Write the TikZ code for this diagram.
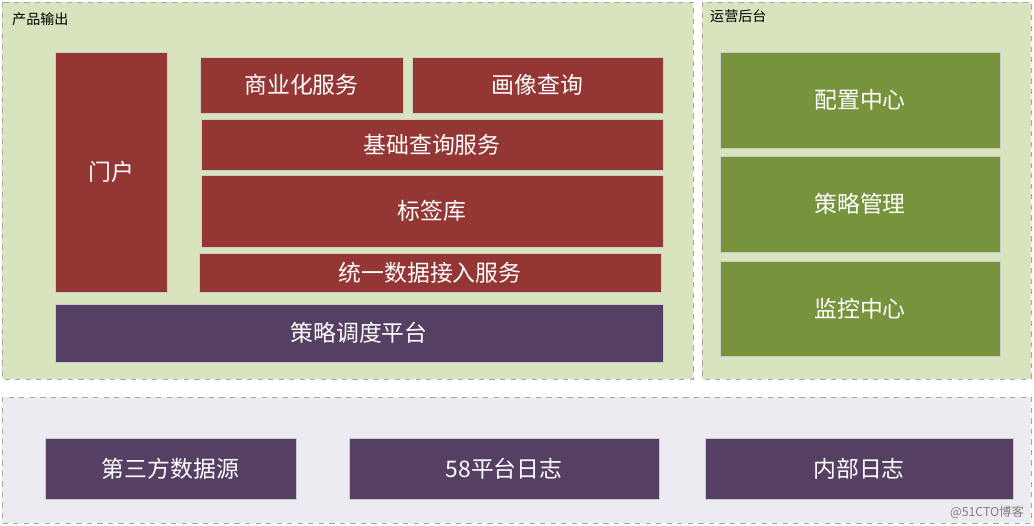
\documentclass[tikz,border=0pt]{standalone}
\usepackage{fontspec}
\setmainfont{Noto Sans CJK SC}
\usetikzlibrary{fit}
\definecolor{panelgreen}{HTML}{D7E4BD}
\definecolor{panelgrey}{HTML}{EDEBF2}
\definecolor{brick}{HTML}{943634}
\definecolor{plum}{HTML}{554063}
\definecolor{olive}{HTML}{77933C}
\tikzset{
  panel/.style={draw=gray!70, dashed, thin},
  box/.style={draw=gray!40, thin, inner sep=0pt},
  redbox/.style={box, fill=brick},
  purplebox/.style={box, fill=plum},
  greenbox/.style={box, fill=olive},
  boxtext/.style={text=white, font=\fontsize{13}{15}\selectfont},
  caption/.style={anchor=west, font=\fontsize{8}{10}\selectfont}
}
\begin{document}
\begin{tikzpicture}[x=0.02cm, y=-0.02cm]
   \useasboundingbox (0,0) rectangle (1034,526);
   % panels
   \draw[panel, fill=panelgreen] (2,2) rectangle (693,379);
   \draw[panel, fill=panelgreen] (702,2) rectangle (1031,379);
   \draw[panel, fill=panelgrey] (2,397) rectangle (1031,523);
   \node[caption] (outlbl) at (6,19) {产品输出};
   \node[caption] (oplbl) at (704,16) {运营后台};

   % product output
   \node[redbox, fit={(55,52)(167,292)}, label={[boxtext]center:门户}] (portal) {};
   \node[redbox, fit={(200,57)(403,113)}, label={[boxtext]center:商业化服务}] (biz) {};
   \node[redbox, fit={(412,57)(663,113)}, label={[boxtext]center:画像查询}] (profile) {};
   \node[redbox, fit={(201,119)(663,170)}, label={[boxtext]center:基础查询服务}] (query) {};
   \node[redbox, fit={(201,175)(663,247)}, label={[boxtext]center:标签库}] (tags) {};
   \node[redbox, fit={(199,253)(661,292)}, label={[boxtext]center:统一数据接入服务}] (ingest) {};
   \node[purplebox, fit={(55,304)(663,362)}, label={[boxtext]center:策略调度平台}] (sched) {};

   % operations backend
   \node[greenbox, fit={(720,52)(1000,148)}, label={[boxtext]center:配置中心}] (config) {};
   \node[greenbox, fit={(720,156)(1000,252)}, label={[boxtext]center:策略管理}] (policy) {};
   \node[greenbox, fit={(720,261)(1000,356)}, label={[boxtext]center:监控中心}] (monitor) {};

   % data sources
   \node[purplebox, fit={(45,438)(296,499)}, label={[boxtext]center:第三方数据源}] (third) {};
   \node[purplebox, fit={(349,438)(659,499)}, label={[boxtext]center:58平台日志}] (plat) {};
   \node[purplebox, fit={(705,438)(1013,499)}, label={[boxtext]center:内部日志}] (inner) {};

   \node[anchor=east, text=gray, font=\fontsize{7}{9}\selectfont] (mark) at (1030,512) {@51CTO博客};
\end{tikzpicture}
\end{document}
